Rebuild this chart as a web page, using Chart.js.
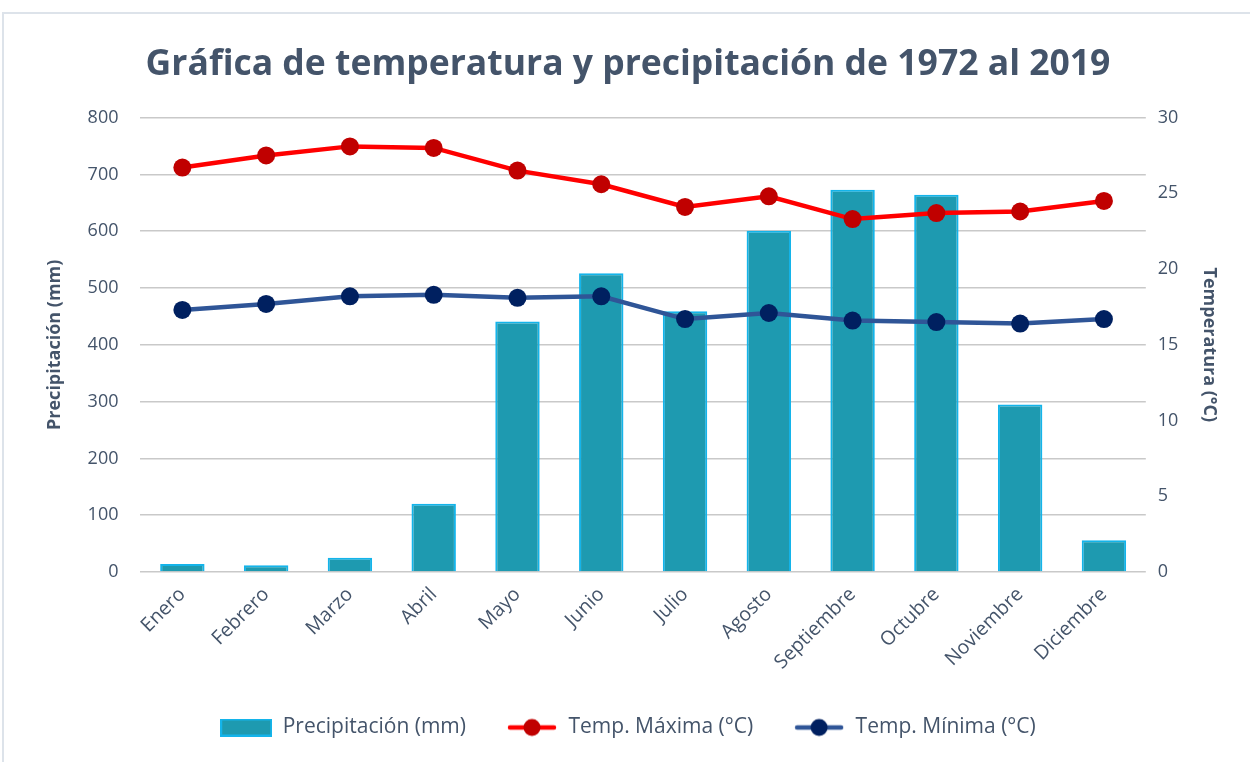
<!DOCTYPE html>
<html>
<head>
<meta charset="utf-8">
<script src="https://cdn.jsdelivr.net/npm/chart.js@4"></script>
<style>
  body { margin: 0; background: #fff; }
  #wrap { position: relative; width: 1250px; height: 762px; }
  #frame { position: absolute; left: 2px; top: 12px; width: 1260px; height: 760px;
           border-left: 2px solid #dde3ea; border-top: 2px solid #dde3ea; }
  canvas { position: absolute; left: 0; top: 0; }
</style>
</head>
<body>
<div id="wrap">
  <div id="frame"></div>
  <canvas id="chart" width="1250" height="762"></canvas>
</div>
<script>
// datos del gráfico
const meses = ['Enero', 'Febrero', 'Marzo', 'Abril', 'Mayo', 'Junio', 'Julio', 'Agosto',
               'Septiembre', 'Octubre', 'Noviembre', 'Diciembre'];
const precipitacion = [14, 12, 25, 120, 441, 526, 459, 601, 673, 664, 295, 56];
const tempMaxima = [26.7, 27.5, 28.1, 28.0, 26.5, 25.6, 24.1, 24.8, 23.3, 23.7, 23.8, 24.5];
const tempMinima = [17.3, 17.7, 18.2, 18.3, 18.1, 18.2, 16.7, 17.1, 16.6, 16.5, 16.4, 16.7];

const textColor = '#44546A';
const fontFam = '"Open Sans", "Noto Sans", sans-serif';

// iconos de la leyenda
function legendLine(lineCol, dotCol) {
    const c = document.createElement('canvas');
    c.width = 50; c.height = 20;
    const g = c.getContext('2d');
    g.strokeStyle = lineCol; g.lineWidth = 4.5; g.lineCap = 'round';
    g.beginPath(); g.moveTo(3, 10); g.lineTo(47, 10); g.stroke();
    g.fillStyle = dotCol;
    g.beginPath(); g.arc(25, 10, 8.5, 0, Math.PI * 2); g.fill();
    return c;
}
function legendBox() {
    const c = document.createElement('canvas');
    c.width = 52; c.height = 18;
    const g = c.getContext('2d');
    g.fillStyle = '#1E9AB0'; g.fillRect(1, 1, 50, 16);
    g.strokeStyle = '#14B4EA'; g.lineWidth = 2; g.strokeRect(1, 1, 50, 16);
    return c;
}
const legendIcons = [legendBox(), legendLine('#FF0000', '#C00000'), legendLine('#2F5597', '#002060')];

const ctx = document.getElementById('chart').getContext('2d');

new Chart(ctx, {
    type: 'bar',
    data: {
        labels: meses,
        datasets: [{
            type: 'bar',
            label: 'Precipitación (mm)',
            data: precipitacion,
            yAxisID: 'y',
            backgroundColor: '#1E9AB0',
            borderColor: '#14B4EA',
            borderWidth: 2,
            barPercentage: 0.53,
            categoryPercentage: 1,
            order: 3
        }, {
            type: 'line',
            label: 'Temp. Máxima (°C)',
            data: tempMaxima,
            yAxisID: 'y1',
            borderColor: '#FF0000',
            backgroundColor: '#C00000',
            borderWidth: 4.5,
            pointRadius: 9,
            pointHoverRadius: 9,
            pointBackgroundColor: '#C00000',
            pointBorderWidth: 0,
            pointStyle: 'circle',
            tension: 0,
            order: 1
        }, {
            type: 'line',
            label: 'Temp. Mínima (°C)',
            data: tempMinima,
            yAxisID: 'y1',
            borderColor: '#2F5597',
            backgroundColor: '#002060',
            borderWidth: 4.5,
            pointRadius: 9,
            pointHoverRadius: 9,
            pointBackgroundColor: '#002060',
            pointBorderWidth: 0,
            pointStyle: 'circle',
            tension: 0,
            order: 2
        }]
    },
    options: {
        responsive: false,
        animation: false,
        layout: { padding: { left: 28, right: 22, top: 20, bottom: 14 } },
        scales: {
            x: {
                grid: { display: false },
                border: { display: false },
                ticks: { color: textColor, font: { family: fontFam, size: 19.5 }, maxRotation: 45, minRotation: 45 }
            },
            y: {
                position: 'left',
                min: 0, max: 800,
                ticks: { stepSize: 100, color: textColor, font: { family: fontFam, size: 18 }, padding: 22 },
                grid: { color: '#c9c9c9', lineWidth: 1.5, drawTicks: false },
                border: { display: false },
                title: { display: true, text: 'Precipitación (mm)', color: textColor, padding: { top: 16, bottom: 0 },
                         font: { family: fontFam, size: 18, weight: 'bold' } }
            },
            y1: {
                position: 'right',
                min: 0, max: 30,
                ticks: { stepSize: 5, color: textColor, font: { family: fontFam, size: 18 }, padding: 12 },
                grid: { display: false, drawTicks: false },
                border: { display: false },
                title: { display: true, text: 'Temperatura (°C)', color: textColor, padding: 8,
                         font: { family: fontFam, size: 18, weight: 'bold' } }
            }
        },
        plugins: {
            title: {
                display: true,
                text: 'Gráfica de temperatura y precipitación de 1972 al 2019',
                color: textColor,
                font: { family: fontFam, size: 35.5, weight: 'bold' },
                padding: { top: 24, bottom: 31 }
            },
            legend: {
                position: 'bottom',
                labels: {
                    usePointStyle: true,
                    pointStyleWidth: 52,
                    color: textColor,
                    font: { family: fontFam, size: 21 },
                    padding: 40,
                    generateLabels: (chart) => {
                        const items = Chart.defaults.plugins.legend.labels.generateLabels(chart);
                        items.forEach(it => { it.pointStyle = legendIcons[it.datasetIndex]; });
                        return items.sort((a, b) => a.datasetIndex - b.datasetIndex);
                    }
                }
            },
            tooltip: { enabled: false }
        }
    }
});
</script>
</body>
</html>
